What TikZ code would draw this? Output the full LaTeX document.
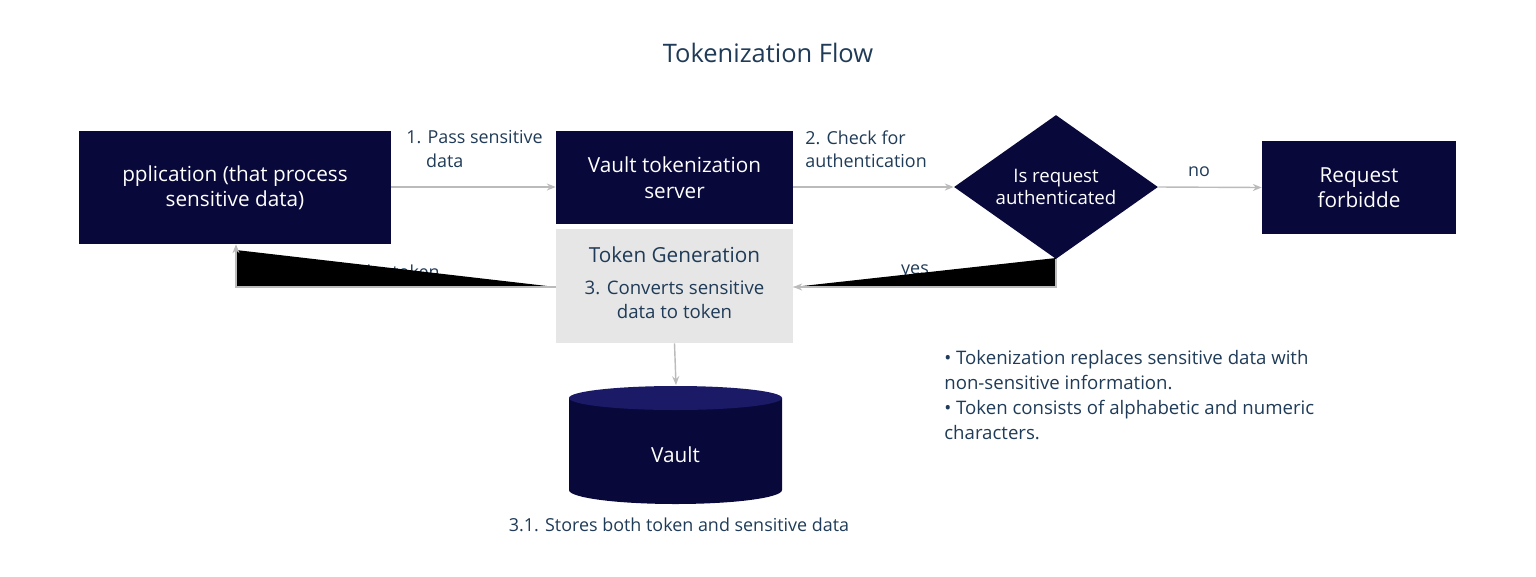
\documentclass[tikz,border=0pt]{standalone}
\usepackage{fontspec}
\setmainfont{Open Sans}
\usetikzlibrary{shapes.geometric,arrows.meta}
\definecolor{navy}{HTML}{08083A}
\definecolor{navytop}{HTML}{1A1A66}
\definecolor{txt}{HTML}{1F3B57}
\definecolor{gen}{HTML}{E6E6E6}
\definecolor{arr}{HTML}{BBBBBB}
\begin{document}
\begin{tikzpicture}[x=0.02cm,y=-0.02cm,
  box/.style={draw=none,fill=navy,text=white,font=\fontsize{11.8}{14.5}\selectfont,align=center,inner sep=0},
  lbl/.style={text=txt,font=\fontsize{10.2}{13.5}\selectfont,align=left,inner sep=0},
  con/.style={draw=arr,line width=0.8pt,-{Stealth[length=5pt,width=4pt]}}]
\useasboundingbox (0,0) rectangle (1536,576);
\node[text=txt,font=\fontsize{14.5}{17}\selectfont] (title) at (768,53) {Tokenization Flow};
\node[box,minimum width=312*0.02cm,minimum height=113*0.02cm] (app) at (235,187.5) {pplication (that process\\sensitive data)};
\node[box,minimum width=237*0.02cm,minimum height=93*0.02cm] (vs) at (674.5,177.5) {Vault tokenization\\server};
\node[fill=gen,minimum width=237*0.02cm,minimum height=114*0.02cm,inner sep=0] (tg) at (674.5,286) {};
\node[text=txt,font=\fontsize{11.8}{14}\selectfont] (tgt) at (674.5,255) {Token Generation};
\node[lbl,align=center,font=\fontsize{10.6}{13.5}\selectfont] (tgd) at (674.5,300) {3. Converts sensitive\\data to token};
\node[diamond,fill=navy,text=white,minimum width=204*0.02cm,minimum height=144*0.02cm,inner sep=0,aspect=1.4,font=\fontsize{10.6}{13}\selectfont,align=center] (dm) at (1056,187) {Is request\\authenticated};
\node[box,minimum width=194*0.02cm,minimum height=93*0.02cm] (fb) at (1359,187.5) {Request\\forbidde};
\draw[con] (app.east |- 0,187) coordinate (a1) -- (vs.west |- a1);
\node[lbl,anchor=north west] (l1) at (406,130) {1. Pass sensitive\\\hspace*{1.1em}data};
\draw[con] (vs.east |- a1) -- (dm.west);
\node[lbl,anchor=north west] (l2) at (805,130) {2. Check for\\authentication};
\draw[con] (dm.east) -- (fb.west);
\node[lbl] (l3) at (1199,172) {no};
\draw[con] (tg.south) -- (676,385) coordinate (cyltop);
% cylinder
\fill[navy] (569,398) -- (569,490) arc[start angle=180,end angle=0,x radius=106.5,y radius=14] -- (782,398) -- cycle;
\fill[navytop] (675.5,398) ellipse[x radius=106.5,y radius=12];
\node[text=white,font=\fontsize{11.8}{14}\selectfont] (vault) at (675.5,455) {Vault};
\node[lbl] (l31) at (679,525) {3.1. Stores both token and sensitive data};
% return connectors with filled wedges
\node[lbl] (l4) at (400,272) {the token};
\node[lbl] (l5) at (915,272) {yes};
\coordinate (p1) at (tg.west |- 0,287);
\coordinate (p2) at (236,287);
\coordinate (p3) at (236,250);
\fill[black] (p1) -- (p2) -- (p3) -- cycle;
\draw[con] (p1) -- (p2) -- (app.south -| p2);
\coordinate (q1) at (1056,258);
\coordinate (q2) at (1056,287);
\fill[black] (q1) -- (q2) -- (tg.east |- q2) -- cycle;
\draw[con] (dm.south) -- (q2) -- (tg.east |- q2);
\node[lbl,anchor=north west,font=\fontsize{10.6}{14.2}\selectfont] (notes) at (944,350) {• Tokenization replaces sensitive data with\\non-sensitive information.\\• Token consists of alphabetic and numeric\\characters.};
\end{tikzpicture}
\end{document}
